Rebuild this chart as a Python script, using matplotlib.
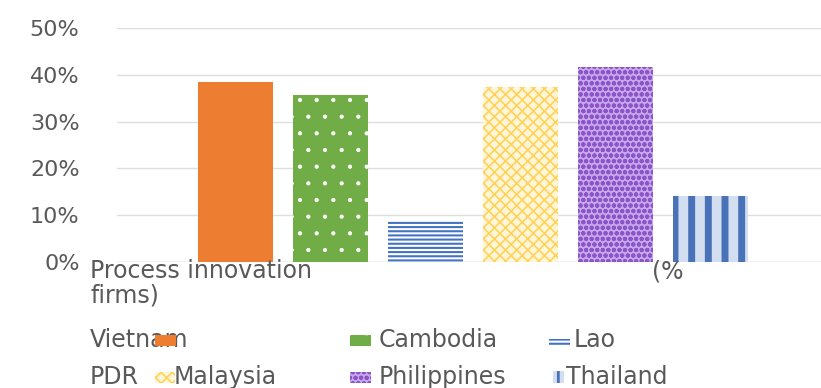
import matplotlib

matplotlib.use("Agg")
import matplotlib.pyplot as plt  # noqa: E402
from matplotlib.patches import Rectangle  # noqa: E402
from matplotlib.ticker import PercentFormatter  # noqa: E402

plt.rcParams.update(
    {
        "font.family": "DejaVu Sans",
        "axes.spines.top": False,
        "axes.spines.right": False,
        "axes.spines.left": False,
        "axes.spines.bottom": False,
    }
)

countries = ["Vietnam", "Cambodia", "Lao PDR", "Malaysia", "Philippines", "Thailand"]
values = [0.385, 0.357, 0.090, 0.374, 0.417, 0.141]
y_ticks = [0.0, 0.1, 0.2, 0.3, 0.4, 0.5]

# (face, hatch colour, hatch, hatch linewidth)
styles = [
    ("#ED7D31", "#ED7D31", None, 1.0),
    ("#70AD47", "#FFFFFF", ".", 0.6),
    ("#FFFFFF", "#4472C4", "----", 1.5),
    ("#FFF6DA", "#FFD25A", "xxx", 1.2),
    ("#C7A8EC", "#8B55C8", "ooo", 1.4),
    ("#D4DEF1", "#4A72B8", "|", 5.0),
]

text_col = "#595959"
grid_col = "#DEDEDE"

fig = plt.figure(figsize=(8.21, 3.88), dpi=100)
ax = fig.add_axes([117 / 821, 126 / 388, 704 / 821, 234 / 388])

slot = 0.8 / len(countries)
for i, (v, (fc, hc, h, hlw)) in enumerate(zip(values, styles)):
    x = (i - (len(countries) - 1) / 2) * slot
    with plt.rc_context({"hatch.linewidth": hlw}):
        ax.bar(x, v, width=slot * 0.79, color=fc, edgecolor=hc, hatch=h,
               linewidth=0, zorder=3)

ax.set_xlim(-0.5, 0.488)
ax.set_ylim(0, 0.5)
ax.set_yticks(y_ticks)
ax.yaxis.set_major_formatter(PercentFormatter(1.0, decimals=0))
ax.set_xticks([])
ax.tick_params(axis="y", length=0, pad=27, labelsize=16, labelcolor=text_col)
ax.grid(axis="y", color=grid_col, linewidth=1.0, zorder=0)
ax.axhline(0, color=grid_col, linewidth=1.0, zorder=2)

# category label (wrapped the odd way in the original)
cat_kw = dict(fontsize=17, color=text_col, va="center", ha="left")
fig.text(90 / 821, 1 - 271 / 388, "Process innovation", **cat_kw)
fig.text(652 / 821, 1 - 272 / 388, "(%", **cat_kw)
fig.text(90 / 821, 1 - 296 / 388, "firms)", **cat_kw)

# legend, laid out by hand to follow the original
leg_items = [
    (90, 340, "Vietnam", 155, 21, 11, 0),
    (379, 340, "Cambodia", 350, 21, 11, 1),
    (574, 340, "Lao", 549, 21, 7, 2),
    (90, 377, "PDR", None, 0, 0, None),
    (174, 377, "Malaysia", 155, 20, 11, 3),
    (379, 377, "Philippines", 350, 21, 11, 4),
    (566, 377, "Thailand", 553, 11, 12, 5),
]
for tx, ty, label, px, pw, ph, si in leg_items:
    fig.text(tx / 821, 1 - ty / 388, label, fontsize=17, color=text_col,
             va="center", ha="left")
    if si is not None:
        fc, hc, h, hlw = styles[si]
        with plt.rc_context({"hatch.linewidth": min(hlw, 2.0)}):
            fig.add_artist(
                Rectangle((px / 821, 1 - (ty + 6) / 388), pw / 821, ph / 388,
                          transform=fig.transFigure, facecolor=fc, edgecolor=hc,
                          hatch=h, linewidth=0, zorder=5)
            )

fig.savefig("out.png", dpi=100)
